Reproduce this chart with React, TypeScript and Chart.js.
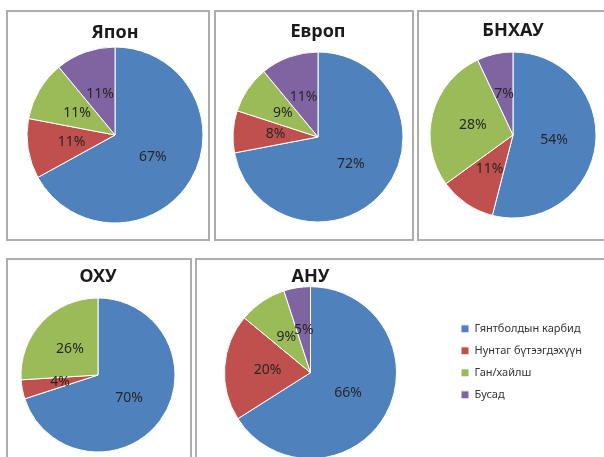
import React, { useEffect, useRef } from "react";
import { Chart, registerables } from "chart.js";

Chart.register(...registerables);

// ---- data ----
const categories = ["Гянтболдын карбид", "Нунтаг бүтээгдэхүүн", "Ган/хайлш", "Бусад"];
const sliceColors = ["#4F81BD", "#C0504D", "#9BBB59", "#8064A2"];
const japanValues = [67, 11, 11, 11];
const europeValues = [72, 8, 9, 11];
const chinaValues = [54, 11, 28, 7];
const russiaValues = [70, 4, 26, 0];
const usaValues = [66, 20, 9, 5];
const titles = ["Япон", "Европ", "БНХАУ", "ОХУ", "АНУ"];

const FONT = "'Noto Sans', 'DejaVu Sans', sans-serif";

const pctLabels = {
  id: "pctLabels",
  afterDatasetsDraw(chart: any) {
    const { ctx } = chart;
    const meta = chart.getDatasetMeta(0);
    const data = chart.data.datasets[0].data as number[];
    ctx.save();
    ctx.font = `14px ${FONT}`;
    ctx.fillStyle = "#262626";
    ctx.textAlign = "center";
    ctx.textBaseline = "middle";
    meta.data.forEach((arc: any, i: number) => {
      const v = data[i];
      if (!v) return;
      const p = arc.getProps(["x", "y", "startAngle", "endAngle", "outerRadius"], true);
      const mid = (p.startAngle + p.endAngle) / 2;
      const d = p.outerRadius * 0.5;
      ctx.fillText(v + "%", p.x + Math.cos(mid) * d, p.y + Math.sin(mid) * d);
    });
    ctx.restore();
  },
};

type PanelProps = {
  title: string;
  values: number[];
  canvas: { left: number; top: number; width: number; height: number };
  pad: { left: number; right: number; top: number; bottom: number };
  titlePadTop: number;
  radius: number;
  legend?: boolean;
};

function PiePanel(props: PanelProps) {
  const ref = useRef<HTMLCanvasElement | null>(null);
  useEffect(() => {
    if (!ref.current) return;
    const chart = new Chart(ref.current, {
      type: "pie",
      data: {
        labels: categories,
        datasets: [
          {
            data: props.values,
            backgroundColor: sliceColors,
            borderColor: "#ffffff",
            borderWidth: 1,
            radius: props.radius,
            clip: false,
          } as any,
        ],
      },
      options: {
        responsive: false,
        animation: false,
        devicePixelRatio: 1,
        layout: { padding: props.pad },
        plugins: {
          title: {
            display: true,
            text: props.title,
            color: "#1a1a1a",
            font: { family: FONT, size: 18, weight: "bold" },
            padding: { top: props.titlePadTop, bottom: 0 },
            fullSize: !props.legend,
          },
          legend: {
            display: !!props.legend,
            position: "right",
            align: "center",
            maxWidth: 140,
            labels: {
              boxWidth: 8,
              boxHeight: 8,
              padding: 11,
              color: "#333333",
              font: { family: FONT, size: 11 },
            },
          },
          tooltip: { enabled: false },
        },
      } as any,
      plugins: [pctLabels],
    });
    return () => chart.destroy();
  }, []);
  const c = props.canvas;
  return (
    <canvas
      ref={ref}
      width={c.width}
      height={c.height}
      style={{ position: "absolute", left: c.left, top: c.top, width: c.width, height: c.height, display: "block" }}
    />
  );
}

const boxes = [
  { left: 6, top: 10, width: 204, height: 231 },
  { left: 214, top: 10, width: 200, height: 231 },
  { left: 417, top: 10, width: 193, height: 231 },
  { left: 6, top: 258, width: 186, height: 212 },
  { left: 195, top: 258, width: 415, height: 212 },
];

export default function App() {
  return (
    <div style={{ position: "fixed", left: 0, top: 0, width: 604, height: 457, overflow: "hidden", background: "#fff" }}>
      {boxes.map((b, i) => (
        <div
          key={i}
          style={{
            position: "absolute",
            left: b.left,
            top: b.top,
            width: b.width,
            height: b.height,
            boxSizing: "border-box",
            border: "2px solid #adadad",
          }}
        />
      ))}
      <PiePanel
        title={titles[0]}
        values={japanValues}
        canvas={{ left: 8, top: 12, width: 200, height: 227 }}
        pad={{ left: 14, right: 0, top: 0, bottom: 12.8 }}
        titlePadTop={10.2}
        radius={88}
      />
      <PiePanel
        title={titles[1]}
        values={europeValues}
        canvas={{ left: 216, top: 12, width: 196, height: 227 }}
        pad={{ left: 8, right: 0, top: 0, bottom: 7.8 }}
        titlePadTop={9.2}
        radius={85}
      />
      <PiePanel
        title={titles[2]}
        values={chinaValues}
        canvas={{ left: 419, top: 12, width: 189, height: 227 }}
        pad={{ left: 0, right: 1, top: 0, bottom: 10.8 }}
        titlePadTop={8.2}
        radius={83}
      />
      <PiePanel
        title={titles[3]}
        values={russiaValues}
        canvas={{ left: 8, top: 260, width: 182, height: 208 }}
        pad={{ left: 0, right: 2, top: 0, bottom: 5.8 }}
        titlePadTop={6.2}
        radius={77}
      />
      <PiePanel
        title={titles[4]}
        values={usaValues}
        canvas={{ left: 171, top: 260, width: 419, height: 208 }}
        pad={{ left: 0, right: 0, top: 6.2, bottom: 10.5 }}
        titlePadTop={0}
        radius={86}
        legend
      />
    </div>
  );
}
